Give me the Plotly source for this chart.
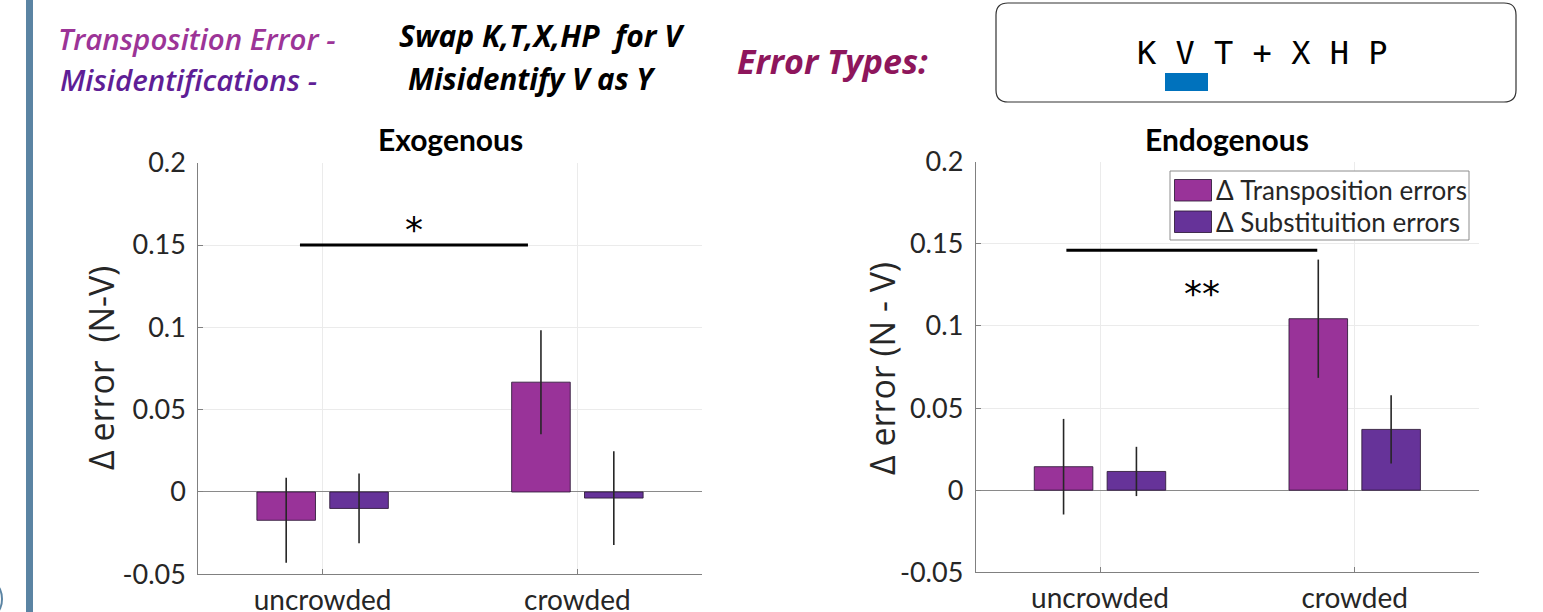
import plotly.graph_objects as go

# ---------------- data ----------------
categories = ["uncrowded", "crowded"]
cat_pos = [1, 2]
series_names = ["\u0394 Transposition errors", "\u0394 Substituition errors"]

exo_trans = [-0.0172, 0.0667]
exo_trans_err = [0.0258, 0.0316]
exo_subst = [-0.0100, -0.0037]
exo_subst_err = [0.0212, 0.0285]

endo_trans = [0.0143, 0.1044]
endo_trans_err = [0.0291, 0.0360]
endo_subst = [0.0114, 0.0370]
endo_subst_err = [0.0150, 0.0208]

ytick_vals = [-0.05, 0, 0.05, 0.1, 0.15, 0.2]
ytick_text = ["-0.05", "0", "0.05", "0.1", "0.15", "0.2"]

exo_sig_x = [0.911, 1.806]
exo_sig_y = [0.150, 0.150]
exo_sig_label = "*"
exo_sig_label_pos = (1.359, 0.1595)

endo_sig_x = [0.868, 1.853]
endo_sig_y = [0.1461, 0.1461]
endo_sig_label = "**"
endo_sig_label_pos = (1.401, 0.1200)

# ---------------- style ----------------
W, H = 1543, 612
C_TRANS = "#993399"
C_SUBST = "#663399"
FONT = "Lato"
HFONT = "Open Sans"
AX_GRAY = "#808080"
GRID = "#ebebeb"
BAR_W = 0.23
OFF_T = -0.143 - BAR_W / 2
OFF_S = 0.143 - BAR_W / 2


def px(x):
    return x / W


def py(y):
    return 1 - y / H


fig = go.Figure()


def add_bars(xa, ya, trans, trans_err, subst, subst_err):
    for vals, errs, col, off, name in [
        (trans, trans_err, C_TRANS, OFF_T, series_names[0]),
        (subst, subst_err, C_SUBST, OFF_S, series_names[1]),
    ]:
        fig.add_trace(go.Bar(
            x=cat_pos, y=vals, width=BAR_W, offset=off,
            marker=dict(color=col, line=dict(color="rgba(45,25,55,0.85)", width=1)),
            error_y=dict(type="data", array=errs, visible=True, width=0,
                         thickness=1.6, color="#262626"),
            xaxis=xa, yaxis=ya, name=name, showlegend=False,
        ))


add_bars("x", "y", exo_trans, exo_trans_err, exo_subst, exo_subst_err)
add_bars("x2", "y2", endo_trans, endo_trans_err, endo_subst, endo_subst_err)

# significance lines
fig.add_trace(go.Scatter(x=exo_sig_x, y=exo_sig_y, mode="lines",
                         line=dict(color="black", width=3), xaxis="x", yaxis="y",
                         showlegend=False, hoverinfo="skip"))
fig.add_trace(go.Scatter(x=endo_sig_x, y=endo_sig_y, mode="lines",
                         line=dict(color="black", width=3), xaxis="x2", yaxis="y2",
                         showlegend=False, hoverinfo="skip"))

axis_common = dict(showline=True, linecolor=AX_GRAY, linewidth=1, mirror=False,
                   showgrid=True, gridcolor=GRID, gridwidth=1,
                   ticks="inside", ticklen=5, tickcolor=AX_GRAY,
                   tickfont=dict(family=FONT, size=27, color="#262626"),
                   automargin=False, fixedrange=True)

xcommon = dict(axis_common, tickvals=cat_pos, ticktext=categories,
               range=[0.512, 2.488], zeroline=False, ticklabelstandoff=1,
               tickfont=dict(family=FONT, size=28, color="#262626"))
ycommon = dict(axis_common, tickvals=ytick_vals, ticktext=ytick_text,
               range=[-0.05, 0.2], zeroline=True, zerolinecolor="#8a8a8a",
               zerolinewidth=1, ticklabelstandoff=6)

fig.update_layout(
    width=W, height=H,
    margin=dict(l=0, r=0, t=0, b=0),
    paper_bgcolor="white", plot_bgcolor="white",
    barmode="overlay",
    showlegend=False,
    xaxis=dict(xcommon, domain=[px(198.3), px(701.7)], anchor="y"),
    yaxis=dict(ycommon, domain=[py(574.3), py(162.7)], anchor="x"),
    xaxis2=dict(xcommon, domain=[px(975.7), px(1479)], anchor="y2"),
    yaxis2=dict(ycommon, domain=[py(572.3), py(161.7)], anchor="x2"),
)


def txt(x, y, text, size, color="black", family=FONT, xanchor="center",
        weight=None, angle=0, xref="paper", yref="paper", conv=True):
    f = dict(family=family, size=size, color=color)
    if weight:
        f["weight"] = weight
    return dict(x=px(x) if conv else x, y=py(y) if conv else y, xref=xref, yref=yref,
                xanchor=xanchor, yanchor="middle", text=text, showarrow=False,
                textangle=angle, font=f)


ann = []
# significance stars
ann.append(txt(exo_sig_label_pos[0], exo_sig_label_pos[1], exo_sig_label, 36,
               family="DejaVu Sans", xref="x", yref="y", conv=False))
ann.append(txt(endo_sig_label_pos[0], endo_sig_label_pos[1], endo_sig_label, 36,
               family="DejaVu Sans", xref="x2", yref="y2", conv=False))

# panel titles
ann.append(txt(450, 139, "<b>Exogenous</b>", 30))
ann.append(txt(1227, 139, "<b>Endogenous</b>", 30))

# y-axis titles
ann.append(txt(101, 368, "\u0394 error  (N-V)", 34, color="#262626", family=HFONT, angle=-90))
ann.append(txt(882, 369, "\u0394 error (N - V)", 34, color="#262626", family=HFONT, angle=-90))

# header texts
ann.append(txt(56, 38, "<i>Transposition Error -</i>", 29.5, color="#9c3497",
               family=HFONT, xanchor="left", weight=600))
ann.append(txt(58, 80, "<i>Misidentifications -</i>", 29.5, color="#5f1e96",
               family=HFONT, xanchor="left", weight=600))
ann.append(txt(397, 35, "<i>Swap K,T,X,HP  for V</i>", 30, color="black",
               family=HFONT, xanchor="left", weight=700))
ann.append(txt(406, 78, "<i>Misidentify V as Y</i>", 29.5, color="black",
               family=HFONT, xanchor="left", weight=700))
ann.append(txt(735, 61, "<i>Error Types:</i>", 34, color="#8e165c",
               family=HFONT, xanchor="left", weight=700))
ann.append(txt(1262, 53, "K V T + X H P", 32, family="DejaVu Sans Mono"))

# legend text
ann.append(txt(1214, 190, series_names[0], 26, color="#262626", xanchor="left"))
ann.append(txt(1214, 222, series_names[1], 26, color="#262626", xanchor="left"))

fig.update_layout(annotations=ann)

# shapes: decorations, box, legend
shapes = []
shapes.append(dict(type="rect", xref="paper", yref="paper", x0=px(26), x1=px(33),
                   y0=0, y1=1, fillcolor="#5b84a3", line=dict(width=0), layer="below"))
shapes.append(dict(type="circle", xref="paper", yref="paper", x0=px(-10), x1=px(2),
                   y0=py(612), y1=py(586), line=dict(color="#5b84a3", width=2)))

# rounded rectangle box
x0, x1, y0, y1, r = 996, 1516, 3, 102, 12
rx, ry = r / W, r / H
X0, X1, Y0, Y1 = px(x0), px(x1), py(y0), py(y1)
path = (f"M {X0+rx},{Y0} L {X1-rx},{Y0} Q {X1},{Y0} {X1},{Y0-ry} "
        f"L {X1},{Y1+ry} Q {X1},{Y1} {X1-rx},{Y1} L {X0+rx},{Y1} "
        f"Q {X0},{Y1} {X0},{Y1+ry} L {X0},{Y0-ry} Q {X0},{Y0} {X0+rx},{Y0} Z")
shapes.append(dict(type="path", xref="paper", yref="paper", path=path,
                   line=dict(color="#333333", width=1.2)))
shapes.append(dict(type="rect", xref="paper", yref="paper", x0=px(1165), x1=px(1208),
                   y0=py(91), y1=py(73), fillcolor="#0072bd", line=dict(width=0)))

# legend box
shapes.append(dict(type="rect", xref="paper", yref="paper", x0=px(1170), x1=px(1469),
                   y0=py(240), y1=py(171), fillcolor="white",
                   line=dict(color="#8c8c8c", width=1)))
shapes.append(dict(type="rect", xref="paper", yref="paper", x0=px(1174.5), x1=px(1211.5),
                   y0=py(201), y1=py(179.5), fillcolor=C_TRANS,
                   line=dict(color="rgba(45,25,55,0.85)", width=1)))
shapes.append(dict(type="rect", xref="paper", yref="paper", x0=px(1174.5), x1=px(1211.5),
                   y0=py(232.5), y1=py(211), fillcolor=C_SUBST,
                   line=dict(color="rgba(45,25,55,0.85)", width=1)))
fig.update_layout(shapes=shapes)

fig.write_html("out.html")
